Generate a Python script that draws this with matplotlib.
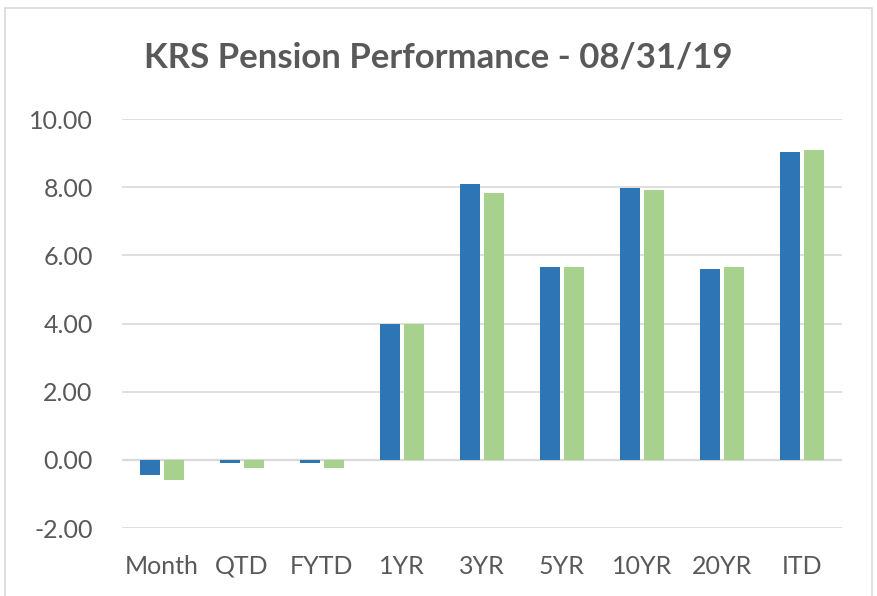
import matplotlib
matplotlib.use('Agg')
import matplotlib.pyplot as plt
import numpy as np
from matplotlib.patches import Rectangle

categories = ['Month', 'QTD', 'FYTD', '1YR', '3YR', '5YR', '10YR', '20YR', 'ITD']
krs = [-0.44, -0.09, -0.09, 3.98, 8.11, 5.66, 7.99, 5.60, 9.03]
benchmark = [-0.59, -0.24, -0.24, 3.98, 7.84, 5.66, 7.91, 5.66, 9.10]
yticks = [-2, 0, 2, 4, 6, 8, 10]

plt.rcParams['font.family'] = ['Lato', 'DejaVu Sans']

fig = plt.figure(figsize=(8.77, 5.96), dpi=100)
ax = fig.add_axes([0.139, 0.114, 0.821, 0.686])

# outer chart frame
fig.patches.append(Rectangle((0.006, -0.01), 0.988, 0.997, transform=fig.transFigure,
                             fill=False, edgecolor='#d9d9d9', linewidth=1.2))

x = np.arange(len(categories))
w = 0.25
ax.bar(x - 0.145, krs, w, color='#2E75B6', zorder=3)
ax.bar(x + 0.145, benchmark, w, color='#A9D18E', zorder=3)

ax.set_xlim(-0.5, len(categories) - 0.5)
ax.set_ylim(-2, 10)
ax.set_yticks(yticks)
ax.set_yticklabels(['%.2f' % v for v in yticks])
ax.set_xticks(x)
ax.set_xticklabels(categories)
ax.grid(axis='y', color='#d9d9d9', linewidth=1.2, zorder=0)
ax.axhline(0, color='#d9d9d9', linewidth=1.6, zorder=2)
for s in ax.spines.values():
    s.set_visible(False)
ax.tick_params(length=0, labelsize=18, colors='#595959')
ax.tick_params(axis='x', pad=33)
ax.tick_params(axis='y', pad=21)
# line up category labels on a common baseline
for lab in ax.get_xticklabels():
    lab.set_va('baseline')

fig.text(0.5, 0.903, 'KRS Pension Performance - 08/31/19', ha='center', va='center',
         fontsize=25, fontweight='bold', color='#595959')

fig.savefig('out.png', dpi=100)
